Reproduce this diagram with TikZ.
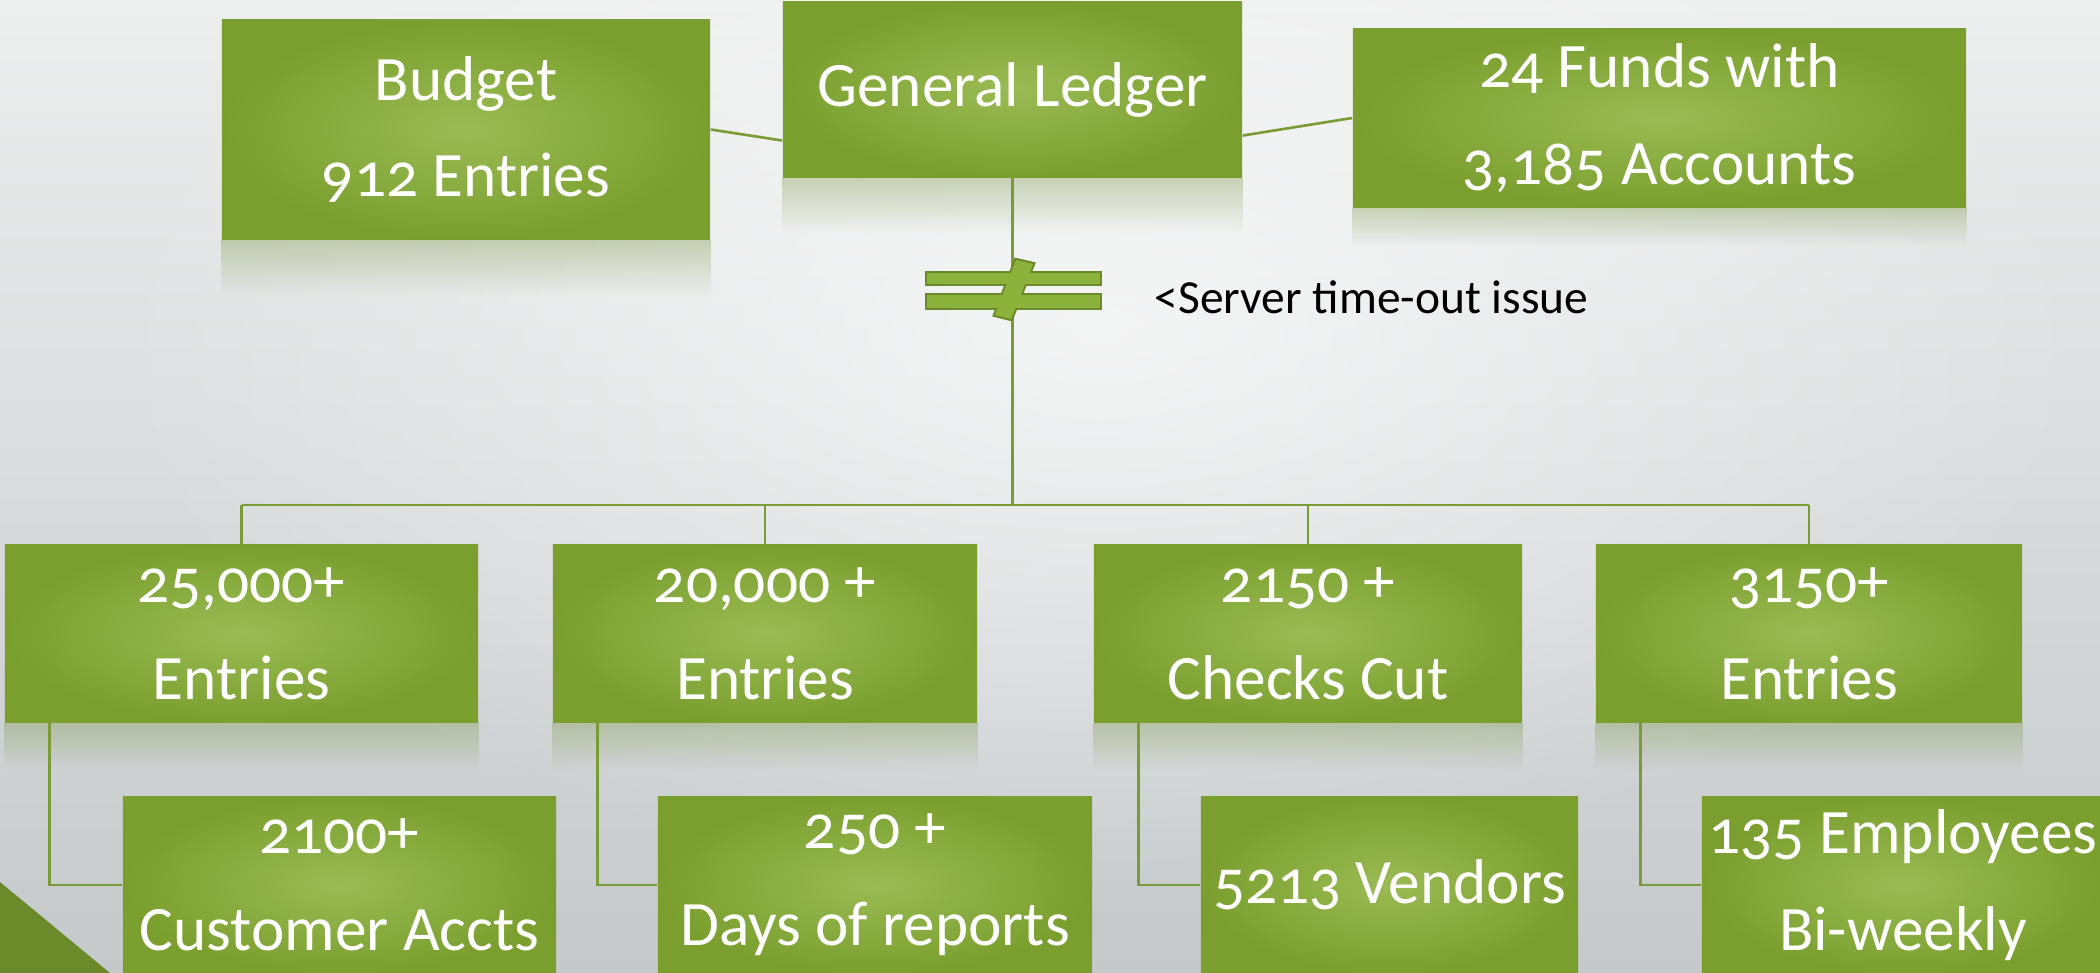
\documentclass[tikz,border=0pt]{standalone}
\usepackage{fontspec}
\setmainfont{Carlito}[Numbers=OldStyle]
\usetikzlibrary{fadings}
\definecolor{leafedge}{HTML}{7A9F2E}
\definecolor{leafmid}{HTML}{9ABB54}
\definecolor{leafline}{HTML}{7A9B35}
\definecolor{leafdark}{HTML}{6B8A2A}
\definecolor{leafsym}{HTML}{8DB23C}
\definecolor{bgtop}{HTML}{EDEEEE}
\definecolor{bgbot}{HTML}{C5C9CB}
\tikzfading[name=reflfade, top color=transparent!65, bottom color=transparent!100]
\tikzfading[name=glowfade, inner color=transparent!35, outer color=transparent!100]

\begin{document}
\begin{tikzpicture}[x=0.01cm, y=-0.01cm,
    box/.style={rectangle, inner sep=0pt, align=center, text=white, inner color=leafmid, outer color=leafedge, font=\fontsize{18}{27.5}\selectfont},
    wire/.style={leafline, line width=0.75pt},
    refl/.style={fill=leafedge!70!gray, path fading=reflfade},
    symedge/.style={draw=leafdark, line width=1.2pt, line join=miter}]
    \clip (0,0) rectangle (2100,973);
    \shade[top color=bgtop, bottom color=bgbot] (0,0) rectangle (2100,973);
    \fill[white, path fading=glowfade] (1100,330) ellipse (1000 and 560);
    \fill[leafdark] (0,882) -- (110,973) -- (0,973) -- cycle;

    \node[box, minimum width=4.88cm, minimum height=2.19cm] (budget) at (466,129.5) {Budget\\912 Entries};
    \node[box, minimum width=4.59cm, minimum height=1.75cm] (gl) at (1012.5,89.5) {General Ledger};
    \node[box, minimum width=6.13cm, minimum height=1.78cm] (funds) at (1659.5,118) {24 Funds with\\3,185 Accounts};

    \node[box, minimum width=4.73cm, minimum height=1.77cm] (e1) at (241.5,633.5) {25,000+\\Entries};
    \node[box, minimum width=4.24cm, minimum height=1.77cm] (e2) at (765,633.5) {20,000 +\\Entries};
    \node[box, minimum width=4.28cm, minimum height=1.77cm] (e3) at (1308,633.5) {2150 +\\Checks Cut};
    \node[box, minimum width=4.26cm, minimum height=1.77cm] (e4) at (1809,633.5) {3150+\\Entries};

    \node[box, minimum width=4.33cm, minimum height=1.76cm] (c1) at (339.5,885) {2100+\\Customer Accts};
    \node[box, minimum width=4.34cm, minimum height=1.76cm] (c2) at (875,885) {250 +\\Days of reports};
    \node[box, minimum width=3.77cm, minimum height=1.76cm] (c3) at (1389.5,885) {5213 Vendors};
    \node[box, minimum width=4.02cm, minimum height=1.76cm] (c4) at (1903,885) {135 Employees\\Bi-weekly};

    \fill[refl] (budget.south west) rectangle ([yshift=-0.56cm]budget.south east);
    \fill[refl] (gl.south west) rectangle ([yshift=-0.55cm]gl.south east);
    \fill[refl] (funds.south west) rectangle ([yshift=-0.38cm]funds.south east);
    \foreach \n in {e1,e2,e3,e4}
        \fill[refl] (\n.south west) rectangle ([yshift=-0.47cm]\n.south east);

    \draw[wire] (budget.east) -- ([yshift=-0.51cm]gl.west);
    \draw[wire] ([yshift=-0.46cm]gl.east) -- (funds.west);
    \coordinate (bus) at (1012.5,505);
    \draw[wire] (gl.south) -- (bus);
    \draw[wire] (bus -| e1.north) -- (bus -| e4.north);
    \foreach \n in {e1,e2,e3,e4}
        \draw[wire] (bus -| \n.north) -- (\n.north);
    \foreach \n/\m in {e1/c1,e2/c2,e3/c3,e4/c4}
        \draw[wire] ([xshift=0.45cm]\n.south west) |- (\m.west);

    \draw[symedge] (927,273) rectangle (1100,284);
    \draw[symedge] (927,295) rectangle (1100,308);
    \draw[symedge] (1016,260) -- (1033,264) -- (1011,319) -- (995,315) -- cycle;
    \fill[leafsym] (927,273) rectangle (1100,284);
    \fill[leafsym] (927,295) rectangle (1100,308);
    \fill[leafsym] (1016,260) -- (1033,264) -- (1011,319) -- (995,315) -- cycle;
    \node[anchor=west, inner sep=0pt, font=\fontsize{13.5}{16}\selectfont] (issue) at (1154,297) {<Server time-out issue};
\end{tikzpicture}
\end{document}
